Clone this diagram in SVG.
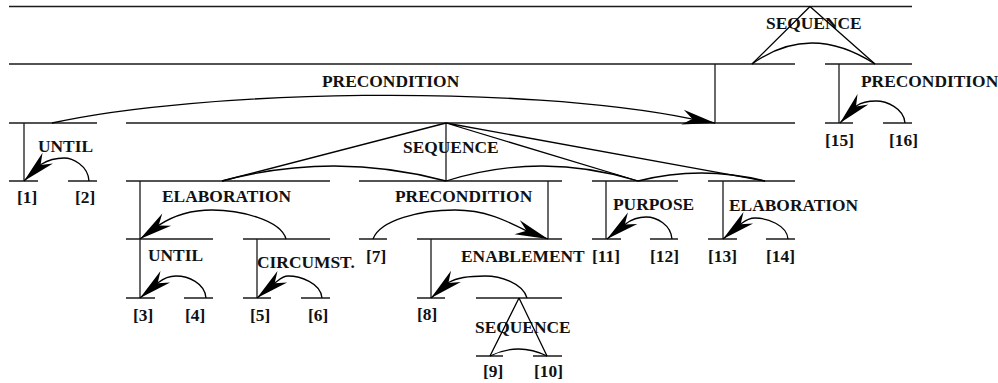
<svg xmlns="http://www.w3.org/2000/svg" width="998" height="383" viewBox="0 0 998 383">
<style>
.h{stroke:#1a1a1a;stroke-width:1.5;fill:none}
.v{stroke:#1a1a1a;stroke-width:1.3;fill:none}
.c{stroke:#000;stroke-width:1.3;fill:none}
.a{stroke:#000;stroke-width:1.3;fill:none;marker-end:url(#ah)}
text{font-family:"Liberation Serif","Times New Roman",serif;font-weight:bold;font-size:17.4px;fill:#111}
</style>
<defs>
<marker id="ah" viewBox="-34 -9 35 18" refX="0" refY="0" markerWidth="35" markerHeight="18" markerUnits="userSpaceOnUse" orient="auto">
<path d="M0,0 L-33,-7.5 L-23,0 L-33,7.5 Z" fill="#000"/>
</marker>
</defs>
<rect width="998" height="383" fill="#fff"/>

<g id="node-1-16">
<line class="h" x1="9" y1="6.5" x2="912" y2="6.5"/>
<text x="766" y="29">SEQUENCE</text>
</g>
<g id="node-1-14">
<line class="h" x1="9" y1="64" x2="795" y2="64"/>
<line class="v" x1="715" y1="64" x2="715" y2="123"/>
<text x="322" y="87">PRECONDITION</text>
</g>
<g id="node-15-16">
<line class="h" x1="825" y1="64" x2="912" y2="64"/>
<line class="v" x1="839" y1="64" x2="839" y2="123"/>
<text x="861" y="87">PRECONDITION</text>
</g>
<g id="node-1-2">
<line class="h" x1="9" y1="123" x2="97" y2="123"/>
<line class="v" x1="24" y1="123" x2="24" y2="181"/>
<text x="38" y="152">UNTIL</text>
</g>
<g id="node-3-14">
<line class="h" x1="126" y1="123" x2="795" y2="123"/>
<line class="v" x1="446" y1="123" x2="446" y2="181"/>
<text x="403" y="153">SEQUENCE</text>
</g>
<g id="leaf-15"><line class="h" x1="825" y1="123" x2="853" y2="123"/><text x="825" y="146">[15]</text></g>
<g id="leaf-16"><line class="h" x1="883" y1="123" x2="912" y2="123"/><text x="889" y="146">[16]</text></g>
<g id="leaf-1"><line class="h" x1="9" y1="181" x2="38" y2="181"/><text x="17" y="203">[1]</text></g>
<g id="leaf-2"><line class="h" x1="68" y1="181" x2="97" y2="181"/><text x="75" y="203">[2]</text></g>

<g id="node-3-6">
<line class="h" x1="126" y1="181" x2="330" y2="181"/>
<line class="v" x1="140" y1="181" x2="140" y2="239"/>
<text x="162" y="202">ELABORATION</text>
</g>
<g id="node-7-10">
<line class="h" x1="359" y1="181" x2="562" y2="181"/>
<line class="v" x1="548" y1="181" x2="548" y2="239"/>
<text x="395" y="202">PRECONDITION</text>
</g>
<g id="node-11-12">
<line class="h" x1="592" y1="181" x2="678" y2="181"/>
<line class="v" x1="606" y1="181" x2="606" y2="239"/>
<text x="613" y="210">PURPOSE</text>
</g>
<g id="node-13-14">
<line class="h" x1="708" y1="181" x2="795" y2="181"/>
<line class="v" x1="723" y1="181" x2="723" y2="239"/>
<text x="729" y="211">ELABORATION</text>
</g>

<g id="node-3-4">
<line class="h" x1="126" y1="239" x2="213" y2="239"/>
<line class="v" x1="140" y1="239" x2="140" y2="298"/>
<text x="148" y="261">UNTIL</text>
</g>
<g id="node-5-6">
<line class="h" x1="243" y1="239" x2="330" y2="239"/>
<line class="v" x1="257" y1="239" x2="257" y2="298"/>
<text x="257" y="268">CIRCUMST.</text>
</g>
<g id="leaf-7"><line class="h" x1="359" y1="239" x2="387" y2="239"/><text x="366" y="262">[7]</text></g>
<g id="node-8-10">
<line class="h" x1="417" y1="239" x2="562" y2="239"/>
<line class="v" x1="431" y1="239" x2="431" y2="298"/>
<text x="461" y="262">ENABLEMENT</text>
</g>
<g id="leaf-11"><line class="h" x1="592" y1="239" x2="621" y2="239"/><text x="592" y="262">[11]</text></g>
<g id="leaf-12"><line class="h" x1="650" y1="239" x2="678" y2="239"/><text x="650" y="262">[12]</text></g>
<g id="leaf-13"><line class="h" x1="708" y1="239" x2="737" y2="239"/><text x="708" y="262">[13]</text></g>
<g id="leaf-14"><line class="h" x1="766" y1="239" x2="795" y2="239"/><text x="766" y="262">[14]</text></g>

<g id="leaf-3"><line class="h" x1="126" y1="298" x2="155" y2="298"/><text x="133" y="321">[3]</text></g>
<g id="leaf-4"><line class="h" x1="184" y1="298" x2="213" y2="298"/><text x="185" y="321">[4]</text></g>
<g id="leaf-5"><line class="h" x1="243" y1="298" x2="271" y2="298"/><text x="250" y="321">[5]</text></g>
<g id="leaf-6"><line class="h" x1="301" y1="298" x2="330" y2="298"/><text x="308" y="321">[6]</text></g>
<g id="leaf-8"><line class="h" x1="417" y1="298" x2="445" y2="298"/><text x="417" y="320">[8]</text></g>
<g id="node-9-10">
<line class="h" x1="476" y1="298" x2="562" y2="298"/>
<text x="475" y="333">SEQUENCE</text>
</g>
<g id="leaf-9"><line class="h" x1="476" y1="356" x2="503" y2="356"/><text x="483" y="377">[9]</text></g>
<g id="leaf-10"><line class="h" x1="533" y1="356" x2="562" y2="356"/><text x="534" y="377">[10]</text></g>

<g id="connectors">
<path class="c" d="M810,6.5 L752,64 M810,6.5 L875,64"/>
<path class="c" d="M752,64 Q810,22 875,64"/>
<path class="c" d="M446,123 L222,181 M446,123 L638,181 M446,123 L765,181"/>
<path class="c" d="M222,181 Q334,151 446,181"/>
<path class="c" d="M446,181 Q542,151 638,181"/>
<path class="c" d="M638,181 Q701,165 765,181"/>
<path class="c" d="M519,298 L490,356 M519,298 L547,356"/>
<path class="c" d="M490,356 Q518.5,342 547,356"/>
<path class="a" d="M52,123 C200,90 520,84 691.4,118.8 L715,123"/>
<path class="a" d="M905,123 C904,108 886,101 876,101 C869,101 862,102 856.7,105.7 L840,123"/>
<path class="a" d="M89,181 C88,165 72,158 64,158 C57,158 50,159 41.3,164.3 L24,181"/>
<path class="a" d="M286,239 C281,220 240,210 212,210 C192,210 173,216 159.4,224.9 L140,239"/>
<path class="a" d="M373,239 C380,220 420,210 455,210 C485,210 505,220 525.6,230.4 L548,239"/>
<path class="a" d="M672,239 C671,225 657,217 646,217 C639,217 632,219 625.6,223.9 L607,239"/>
<path class="a" d="M788,239 C787,225 767,218 755,218 C750,218 746,220 741.4,223.6 L723,239"/>
<path class="a" d="M206,298 C205,283 188,276 176,276 C170,276 164,278 158.4,282.6 L140,298"/>
<path class="a" d="M322,298 C321,283 300,276 288,276 C283,276 280,279 275.4,282.6 L257,298"/>
<path class="a" d="M527,298 C523,283 500,276 485,276 C470,276 458,277 449.1,282.3 L431,298"/>
</g>
</svg>
